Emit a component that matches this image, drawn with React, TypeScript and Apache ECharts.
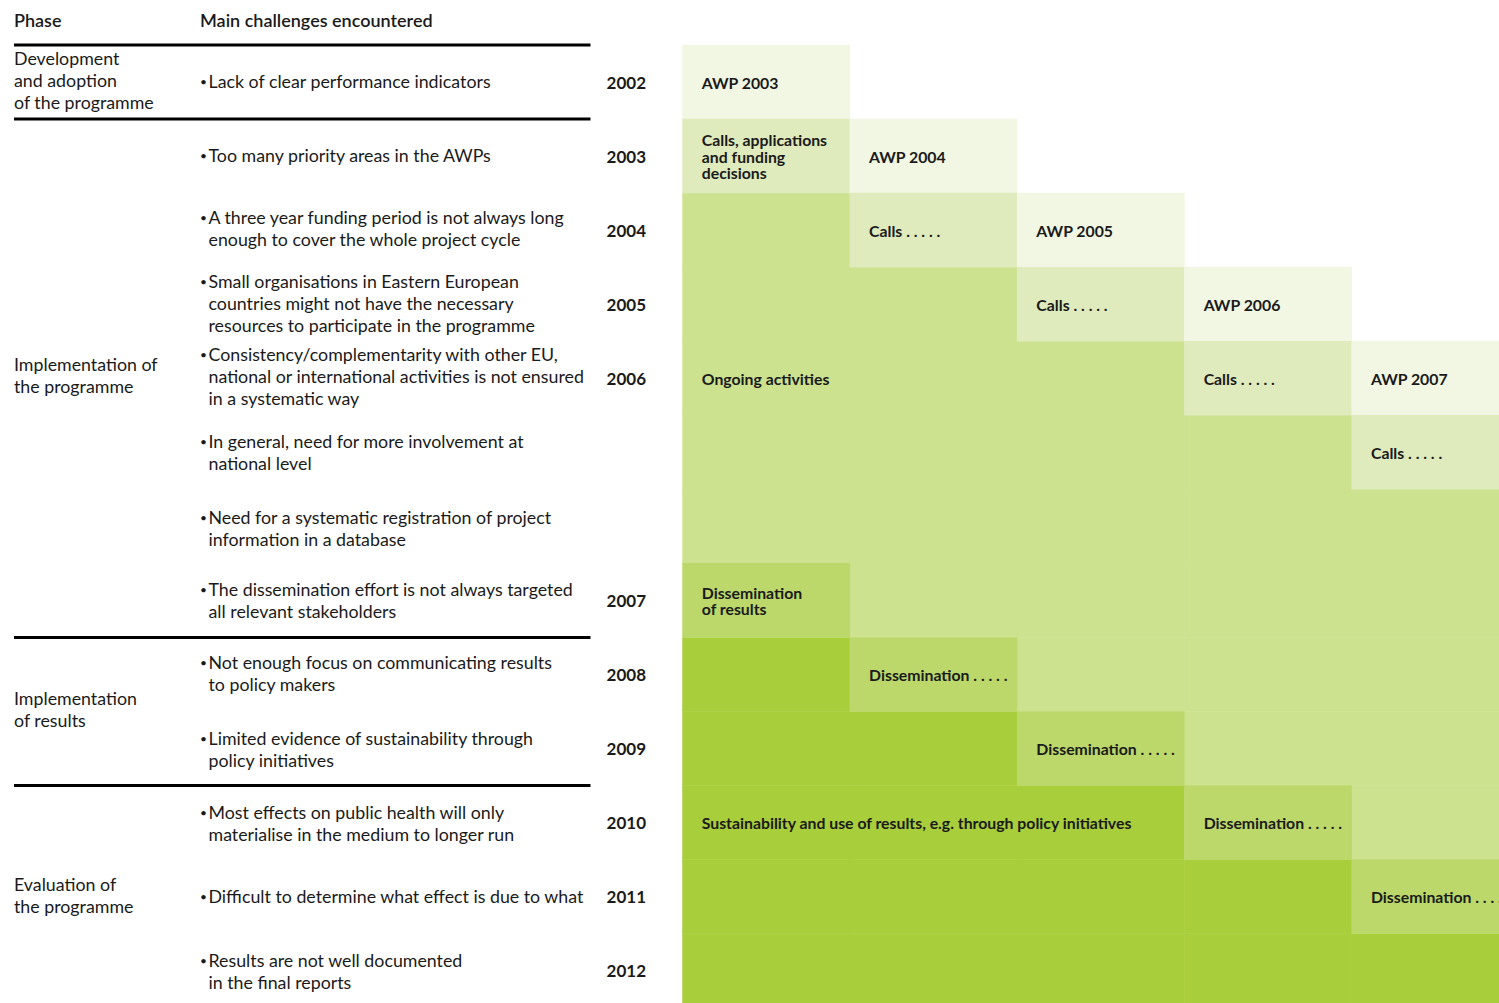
import React, { useEffect, useRef } from "react";
import * as echarts from "echarts";

const columns = ["c0", "c1", "c2", "c3", "c4"];
const yearLabels = ["2002", "2003", "2004", "2005", "2006", "", "", "2007", "2008", "2009", "2010", "2011", "2012"];

// level per cell: 0 none, 1 AWP, 2 calls, 3 ongoing, 4 dissemination, 5 sustainability
const levels: number[][] = [
  [1, 0, 0, 0, 0],
  [2, 1, 0, 0, 0],
  [3, 2, 1, 0, 0],
  [3, 3, 2, 1, 0],
  [3, 3, 3, 2, 1],
  [3, 3, 3, 3, 2],
  [3, 3, 3, 3, 3],
  [4, 3, 3, 3, 3],
  [5, 4, 3, 3, 3],
  [5, 5, 4, 3, 3],
  [5, 5, 5, 4, 3],
  [5, 5, 5, 5, 4],
  [5, 5, 5, 5, 5],
];

const levelColors = ["#ffffff", "#f2f7e3", "#dfeabd", "#cce28f", "#bcd86a", "#a8ce3b"];

const cellLabels: [number, number, string][] = [
  [0, 0, "AWP 2003"],
  [1, 0, "Calls, applications\nand funding\ndecisions"],
  [1, 1, "AWP 2004"],
  [2, 1, "Calls . . . . ."],
  [2, 2, "AWP 2005"],
  [3, 2, "Calls . . . . ."],
  [3, 3, "AWP 2006"],
  [4, 0, "Ongoing activities"],
  [4, 3, "Calls . . . . ."],
  [4, 4, "AWP 2007"],
  [5, 4, "Calls . . . . ."],
  [7, 0, "Dissemination\nof results"],
  [8, 1, "Dissemination . . . . ."],
  [9, 2, "Dissemination . . . . ."],
  [10, 3, "Dissemination . . . . ."],
  [11, 4, "Dissemination . . . . ."],
  [10, 0, "Sustainability and use of results, e.g. through policy initiatives"],
];

const phases: [string, number][] = [
  ["Development\nand adoption\nof the programme", 80],
  ["Implementation of\nthe programme", 375],
  ["Implementation\nof results", 709],
  ["Evaluation of\nthe programme", 895],
];

const challenges: [string, number][] = [
  ["Lack of clear performance indicators", 81],
  ["Too many priority areas in the AWPs", 155],
  ["A three year funding period is not always long\nenough to cover the whole project cycle", 217],
  ["Small organisations in Eastern European\ncountries might not have the necessary\nresources to participate in the programme", 281],
  ["Consistency/complementarity with other EU,\nnational or international activities is not ensured\nin a systematic way", 354],
  ["In general, need for more involvement at\nnational level", 441],
  ["Need for a systematic registration of project\ninformation in a database", 517],
  ["The dissemination effort is not always targeted\nall relevant stakeholders", 589],
  ["Not enough focus on communicating results\nto policy makers", 662],
  ["Limited evidence of sustainability through\npolicy initiatives", 738],
  ["Most effects on public health will only\nmaterialise in the medium to longer run", 812],
  ["Difficult to determine what effect is due to what", 896],
  ["Results are not well documented\nin the final reports", 960],
];

const separatorRows = [0, 1, 8, 10];

const FONT = "Lato";
const TEXT = "#1a1a1a";
const BODY_SIZE = 17.8;

export default function App() {
  const ref = useRef<HTMLDivElement>(null);
  useEffect(() => {
    document.body.style.margin = "0";
    document.body.style.overflow = "hidden";
    if (!ref.current) return;
    const chart = echarts.init(ref.current, undefined, { renderer: "svg" });

    const labelMap = new Map<string, string>();
    cellLabels.forEach(([r, c, t]) => labelMap.set(r + "," + c, t));
    const order = new Map<string, number>();
    cellLabels.forEach(([r, c], i) => order.set(r + "," + c, i + 1));

    const data: any[] = [];
    levels.forEach((row, r) =>
      row.forEach((lvl, c) => {
        if (lvl > 0) data.push({ value: [c, r, lvl], key: r + "," + c });
      })
    );
    data.sort((a, b) => (order.get(a.key) || 0) - (order.get(b.key) || 0));
    const seriesData = data.map((d) => {
      const txt = labelMap.get(d.key);
      return {
        value: d.value,
        label: txt ? { show: true, formatter: txt } : { show: false },
      };
    });

    const gridTop = 45;
    const rowH = 74.05;
    const gridHeight = rowH * 13;

    const graphics: any[] = [
      { type: "text", left: 14, top: 11, style: { text: "Phase", font: `600 18px ${FONT}`, fill: TEXT } },
      { type: "text", left: 200, top: 11, style: { text: "Main challenges encountered", font: `600 18px ${FONT}`, fill: TEXT } },
    ];
    separatorRows.forEach((k) => {
      const y = gridTop + k * rowH;
      graphics.push({
        type: "line",
        shape: { x1: 14, y1: y, x2: 590.5, y2: y },
        style: { stroke: "#000", lineWidth: 3 },
      });
    });
    phases.forEach(([t, y]) => {
      graphics.push({
        type: "text",
        x: 14,
        y,
        style: { text: t, font: `${BODY_SIZE}px ${FONT}`, fill: TEXT, lineHeight: 22, verticalAlign: "middle", align: "left" },
      });
    });
    challenges.forEach(([t, y]) => {
      const n = t.split("\n").length;
      graphics.push({
        type: "text",
        x: 200,
        y,
        style: { text: "•", font: `12px ${FONT}`, fill: TEXT, verticalAlign: "middle", align: "left" },
      });
      graphics.push({
        type: "text",
        x: 208.5,
        y: y + ((n - 1) * 22) / 2,
        style: { text: t, font: `${BODY_SIZE}px ${FONT}`, fill: TEXT, lineHeight: 22, verticalAlign: "middle", align: "left" },
      });
    });

    chart.setOption({
      animation: false,
      grid: { left: 682.5, top: gridTop, width: 167.3 * 5, height: gridHeight, containLabel: false },
      xAxis: {
        type: "category",
        data: columns,
        show: false,
      },
      yAxis: {
        type: "category",
        data: yearLabels,
        inverse: true,
        axisLine: { show: false },
        axisTick: { show: false },
        splitLine: { show: false },
        axisLabel: {
          margin: 36.5,
          fontFamily: FONT,
          fontWeight: "bold",
          fontSize: 17,
          color: TEXT,
          interval: 0,
        },
      },
      visualMap: {
        type: "piecewise",
        show: false,
        dimension: 2,
        seriesIndex: 0,
        pieces: levelColors.map((color, i) => ({ value: i, color })),
      },
      series: [
        {
          type: "heatmap",
          data: seriesData,
          itemStyle: { borderWidth: 0 },
          emphasis: { disabled: true },
          label: {
            position: "insideLeft",
            distance: 19.5,
            fontFamily: FONT,
            fontWeight: "bold",
            fontSize: 15.8,
            lineHeight: 16.5,
            color: TEXT,
          },
        },
      ],
      graphic: graphics,
    });
    return () => chart.dispose();
  }, []);
  return (
    <div style={{ width: 1499, height: 1003, overflow: "hidden", position: "relative" }}>
      <div ref={ref} style={{ width: 1530, height: 1030 }} />
    </div>
  );
}
